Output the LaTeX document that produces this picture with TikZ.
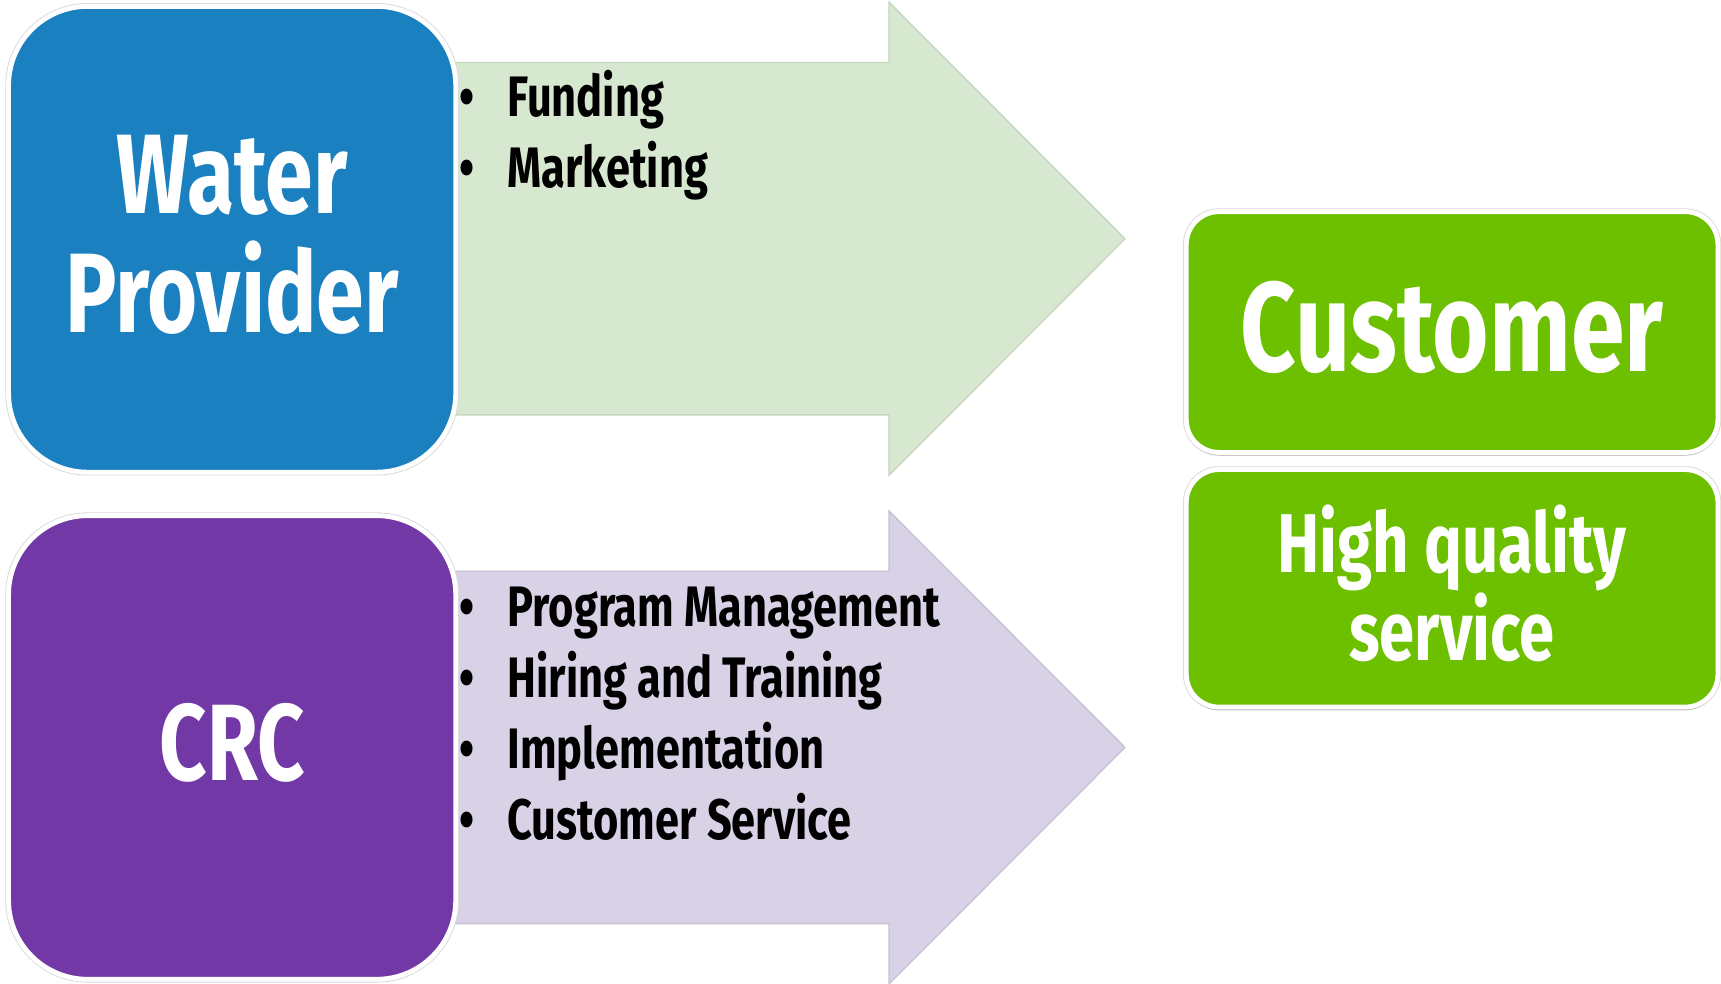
\documentclass[tikz,border=0pt]{standalone}
\usepackage{fontspec}
\setmainfont{Fira Sans}[FakeStretch=0.76]
\usetikzlibrary{shadows}

\definecolor{wpblue}{HTML}{1A80BF}
\definecolor{crcpurple}{HTML}{7239A6}
\definecolor{custgreen}{HTML}{6CC000}
\definecolor{arrowgreen}{HTML}{D7E8D0}
\definecolor{arrowpurple}{HTML}{D9D1E6}

\tikzset{
	box/.style={rounded corners=#1, draw=white, line width=2.2pt, inner sep=0pt, text depth=5pt,
		text=white, align=center, preaction={draw=black!15, line width=3pt}},
	item/.style={anchor=base west, inner sep=0pt, font=\fontsize{26}{32}\selectfont\bfseries}
}

\begin{document}
\begin{tikzpicture}[x=0.5pt,y=-0.5pt]
	    	\useasboundingbox (0,0) rectangle (1568,896);
	    	% block arrows
	    	\foreach \yc/\col in {217.5/arrowgreen,681/arrowpurple}
	    	{
	    		\filldraw[fill=\col, draw=\col!92!black, line width=0.6pt]
	    		(400,\yc-160.5) -- (810,\yc-160.5) -- (810,\yc-215.5) -- (1025,\yc)
	    		-- (810,\yc+215.5) -- (810,\yc+160.5) -- (400,\yc+160.5) -- cycle;
	    	}
	    	\node[box=36pt, fill=wpblue, minimum width=203.7pt, minimum height=212.2pt,
	    		font=\fontsize{51.5}{54}\selectfont\bfseries] (wp) at (211.5,218) {Water\\Provider};
	    	\node[box=36pt, fill=crcpurple, minimum width=203.7pt, minimum height=211.2pt,
	    		font=\fontsize{49.5}{54}\selectfont\bfseries] (crc) at (211.5,681) {CRC};
	    	\node[box=15pt, fill=custgreen, minimum width=242.2pt, minimum height=109.7pt,
	    		drop shadow={shadow xshift=0pt, shadow yshift=-1.4pt, fill=black!45, opacity=0.5},
	    		font=\fontsize{58}{60}\selectfont\bfseries] (cust) at (1323,302.5) {Customer};
	    	\node[box=15pt, fill=custgreen, minimum width=242.2pt, minimum height=108.2pt,
	    		drop shadow={shadow xshift=0pt, shadow yshift=-1.4pt, fill=black!45, opacity=0.5},
	    		font=\fontsize{38}{40}\selectfont\bfseries] (hqs) at (1323,536) {High quality\\service};
	    	% bullet items
	    	\foreach \txt [count=\i] in {Funding,Marketing}
	    		\node[item] (wp item\i) at (418,{106+65*(\i-1)}) {\makebox[22pt][l]{\textbullet}\txt};
	    	\foreach \txt [count=\i] in {Program Management,Hiring and Training,Implementation,Customer Service}
	    		\node[item] (crc item\i) at (418,{571+64.5*(\i-1)}) {\makebox[22pt][l]{\textbullet}\txt};
	    	\end{tikzpicture}
\end{document}
